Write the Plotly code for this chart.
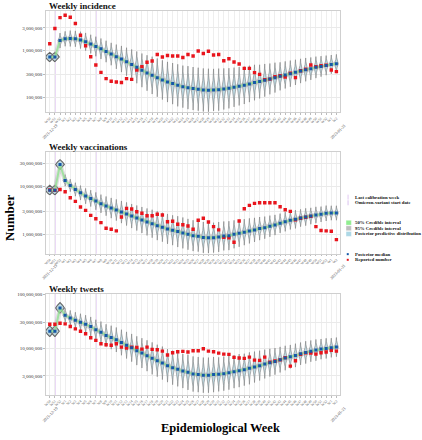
import numpy as np
import plotly.graph_objects as go

# ---------------- data ----------------
WEEK_LABELS = ["W50", "W51", "W52"] + ["W%d" % k for k in range(1, 53)] + ["W1", "W2"]
X = list(range(len(WEEK_LABELS)))

CALIB_LINE_IDX = 1
OMICRON_LINE_IDX = 9
DATE_LABEL_LEFT = ("2021-12-19", 1)
DATE_LABEL_RIGHT = ("2023-01-21", 56)

INC_MEDIAN = [716000, 716000, 1616000, 1757000, 1782000, 1757000, 1648000, 1517000, 1356000, 1205000,
              1076000, 943000, 830000, 728000, 650000, 569000, 499000, 431000, 372000, 327000,
              291000, 260000, 232000, 210000, 194000, 178000, 167000, 159000, 152000, 147000,
              142000, 140000, 142000, 144000, 149000, 154000, 162000, 170000, 178000, 191000,
              204000, 214000, 228000, 244000, 260000, 277000, 297000, 316000, 337000, 361000,
              385000, 404000, 431000, 452000, 475000, 499000, 516000]
INC_REPORTED = [1375000, 2910000, 4990000, 5610000, 5080000, 3720000, 2100000, 1247000, 728000, 484000,
                337000, 248000, 217000, 210000, 204000, 248000, 239000, 379000, 446000, 556000,
                589000, 814000, 716000, 775000, 753000, 753000, 703000, 814000, 753000, 962000,
                855000, 952000, 791000, 814000, 598000, 659000, 561000, 508000, 410000, 410000,
                332000, 305000, 236000, 242000, 273000, 286000, 269000, 324000, 260000, 366000,
                394000, 484000, 446000, 468000, 480000, 379000, 349000]
INC_SPREAD = [0.1, 0.1, 0.16, 0.16, 0.17, 0.17, 0.18, 0.19, 0.2, 0.21,
              0.22, 0.23, 0.24, 0.26, 0.28, 0.3, 0.32, 0.34, 0.36, 0.38,
              0.4, 0.41, 0.42, 0.43, 0.44, 0.45, 0.45, 0.46, 0.46, 0.46,
              0.46, 0.46, 0.45, 0.45, 0.44, 0.43, 0.42, 0.41, 0.4, 0.39,
              0.38, 0.36, 0.35, 0.33, 0.32, 0.3, 0.29, 0.28, 0.27, 0.26,
              0.25, 0.24, 0.23, 0.22, 0.21, 0.2, 0.2]

VAC_MEDIAN = [8390000, 8390000, 28500000, 13300000, 10500000, 8670000, 7380000, 6310000, 5660000, 4980000,
              4380000, 3920000, 3570000, 3250000, 2950000, 2690000, 2440000, 2220000, 2020000, 1840000,
              1690000, 1540000, 1430000, 1320000, 1240000, 1160000, 1090000, 1020000, 957000, 931000,
              880000, 871000, 871000, 899000, 944000, 957000, 1020000, 1070000, 1130000, 1200000,
              1260000, 1340000, 1400000, 1500000, 1590000, 1730000, 1860000, 1990000, 2090000, 2220000,
              2330000, 2440000, 2560000, 2650000, 2780000, 2820000, 2820000]
VAC_REPORTED = [8500000, 8300000, 8670000, 7740000, 5820000, 4910000, 3740000, 3200000, 2520000, 2150000,
                1780000, 1360000, 1300000, 1200000, 2330000, 3520000, 3400000, 2990000, 2780000, 2480000,
                2480000, 2650000, 2560000, 1860000, 1900000, 1650000, 1610000, 1520000, 1300000, 1990000,
                2190000, 1840000, 1470000, 1260000, 880000, 859000, 700000, 1930000, 3450000, 4050000,
                4460000, 4590000, 4590000, 4590000, 4590000, 3790000, 3300000, 3050000, 2050000, 2200000,
                2300000, 2400000, 1470000, 1220000, 1200000, 1180000, 793000]
VAC_SPREAD = [0.1, 0.1, 0.1, 0.12, 0.13, 0.14, 0.15, 0.16, 0.17, 0.18,
              0.19, 0.2, 0.21, 0.22, 0.23, 0.24, 0.25, 0.26, 0.27, 0.28,
              0.29, 0.3, 0.3, 0.31, 0.31, 0.32, 0.32, 0.32, 0.32, 0.32,
              0.32, 0.32, 0.31, 0.31, 0.3, 0.3, 0.29, 0.28, 0.27, 0.26,
              0.25, 0.24, 0.23, 0.22, 0.21, 0.2, 0.2, 0.19, 0.19, 0.18,
              0.18, 0.17, 0.17, 0.16, 0.16, 0.15, 0.15]

TWE_MEDIAN = [20600000, 20600000, 56400000, 41100000, 36700000, 33200000, 30400000, 27900000, 25300000, 21900000,
              19800000, 17200000, 15800000, 14300000, 12700000, 11300000, 10100000, 8910000, 8040000, 7180000,
              6400000, 5790000, 5220000, 4680000, 4290000, 3990000, 3710000, 3510000, 3260000, 3180000,
              3100000, 3100000, 3180000, 3210000, 3310000, 3460000, 3610000, 3770000, 3930000, 4160000,
              4400000, 4680000, 5010000, 5320000, 5620000, 6050000, 6490000, 6890000, 7280000, 7830000,
              8280000, 8750000, 9140000, 9540000, 9840000, 10100000, 10400000]
TWE_REPORTED = [27900000, 27900000, 29200000, 28400000, 25300000, 22900000, 20600000, 18500000, 15600000, 13900000,
                12000000, 11500000, 11300000, 12000000, 10400000, 9960000, 10400000, 10300000, 9540000, 10400000,
                9420000, 9290000, 8750000, 7380000, 8170000, 8530000, 8650000, 8400000, 8910000, 8910000,
                9700000, 8750000, 8530000, 8040000, 7690000, 7600000, 6680000, 6490000, 6400000, 6760000,
                5940000, 5870000, 6760000, 5400000, 5700000, 6000000, 6600000, 4590000, 5790000, 7600000,
                8100000, 8040000, 7690000, 8170000, 8400000, 9020000, 8750000]
TWE_SPREAD = [0.1, 0.1, 0.1, 0.13, 0.14, 0.15, 0.16, 0.17, 0.18, 0.19,
              0.2, 0.21, 0.22, 0.23, 0.24, 0.25, 0.26, 0.27, 0.28, 0.29,
              0.3, 0.3, 0.31, 0.31, 0.32, 0.32, 0.32, 0.33, 0.33, 0.33,
              0.33, 0.33, 0.33, 0.32, 0.32, 0.32, 0.31, 0.31, 0.3, 0.3,
              0.29, 0.28, 0.27, 0.26, 0.25, 0.24, 0.23, 0.22, 0.22, 0.21,
              0.21, 0.2, 0.2, 0.19, 0.19, 0.18, 0.18]

PANELS = [
    dict(title="Weekly incidence", median=INC_MEDIAN, reported=INC_REPORTED, spread=INC_SPREAD, n_calib=2,
         tickvals=[100000, 300000, 1000000, 3000000],
         ticktext=["100,000", "300,000", "1,000,000", "3,000,000"]),
    dict(title="Weekly vaccinations", median=VAC_MEDIAN, reported=VAC_REPORTED, spread=VAC_SPREAD, n_calib=3,
         tickvals=[1000000, 3000000, 10000000, 30000000],
         ticktext=["1,000,000", "3,000,000", "10,000,000", "30,000,000"]),
    dict(title="Weekly tweets", median=TWE_MEDIAN, reported=TWE_REPORTED, spread=TWE_SPREAD, n_calib=3,
         tickvals=[3000000, 10000000, 30000000, 100000000],
         ticktext=["3,000,000", "10,000,000", "30,000,000", "100,000,000"]),
]

# ---------------- layout geometry (pixels) ----------------
W, H = 422, 440
X_LEFT, X_RIGHT = 44, 340
PANEL_PX = [(9, 111), (150.7, 253), (293.3, 395)]
Y_LOG_RANGES = [(4.670, 6.840), (5.604, 7.713), (6.116, 8.013)]
TITLE_Y = [4, 145.5, 288]
DATE_Y = [130, 271, 414]

SERIF = "Liberation Serif, Times New Roman, serif"
VIOLIN_FILL = "#bcd9e3"
VIOLIN_LINE = "#7e7e7e"
LINE_COLOR = "#e2c9f3"
MEDIAN_COLOR = "#1457a8"
REPORT_COLOR = "#e8141c"

PROFILE = [(-1.0, 0.0), (-0.7, 0.1), (-0.45, 0.28), (-0.2, 0.68), (0.0, 1.0),
           (0.2, 0.68), (0.45, 0.28), (0.7, 0.1), (1.0, 0.0)]
DIAMOND = [(-1.0, 0.0), (-0.5, 0.6), (0.0, 1.0), (0.5, 0.6), (1.0, 0.0)]


def px_y(p):
    return 1 - p / H


def px_x(p):
    return p / W


def shape_xy(xs, meds, spreads, half_w, profile):
    px, py = [], []
    for x, m, s in zip(xs, meds, spreads):
        lm = np.log10(m)
        pts = [(x + half_w * dx, 10 ** (lm + dy * s)) for dy, dx in profile]
        pts += [(x - half_w * dx, 10 ** (lm + dy * s)) for dy, dx in reversed(profile)]
        px += [p[0] for p in pts] + [None]
        py += [p[1] for p in pts] + [None]
    return px, py


fig = go.Figure()
annotations = []
shapes = []

for k, pan in enumerate(PANELS):
    sfx = "" if k == 0 else str(k + 1)
    xa, ya = "x" + sfx, "y" + sfx
    nc = pan["n_calib"]
    med, rep, spr = pan["median"], pan["reported"], pan["spread"]

    for li in (CALIB_LINE_IDX, OMICRON_LINE_IDX):
        shapes.append(dict(type="line", xref=xa, yref=ya + " domain", x0=li, x1=li, y0=0, y1=1,
                           line=dict(color=LINE_COLOR, width=1.6), layer="below"))

    vx, vy = shape_xy(X[nc:], med[nc:], spr[nc:], 0.4, PROFILE)
    fig.add_trace(go.Scatter(x=vx, y=vy, xaxis=xa, yaxis=ya, mode="lines", fill="toself",
                             fillcolor=VIOLIN_FILL, line=dict(color=VIOLIN_LINE, width=0.6),
                             hoverinfo="skip"))
    dx_, dy_ = shape_xy(X[:nc], med[:nc], spr[:nc], 0.85, DIAMOND)
    fig.add_trace(go.Scatter(x=dx_, y=dy_, xaxis=xa, yaxis=ya, mode="lines", fill="toself",
                             fillcolor=VIOLIN_FILL, line=dict(color="#666666", width=1.1),
                             hoverinfo="skip"))
    fig.add_trace(go.Scatter(x=X, y=med, xaxis=xa, yaxis=ya, mode="lines",
                             line=dict(color="rgba(175,175,175,0.4)", width=4.5), hoverinfo="skip"))
    fig.add_trace(go.Scatter(x=X, y=med, xaxis=xa, yaxis=ya, mode="lines",
                             line=dict(color="rgba(140,225,140,0.75)", width=2), hoverinfo="skip"))
    fig.add_trace(go.Scatter(x=X, y=rep, xaxis=xa, yaxis=ya, mode="markers",
                             marker=dict(symbol="square", size=3.4, color=REPORT_COLOR)))
    fig.add_trace(go.Scatter(x=X, y=med, xaxis=xa, yaxis=ya, mode="markers",
                             marker=dict(symbol="square", size=3, color=MEDIAN_COLOR)))

    top, bot = PANEL_PX[k]
    fig.update_layout(**{
        "xaxis" + sfx: dict(domain=[px_x(X_LEFT), px_x(X_RIGHT)], anchor=ya, range=[-0.78, 56.78],
                            tickvals=X, ticktext=WEEK_LABELS, tickangle=-45,
                            tickfont=dict(family=SERIF, size=3.6, color="#555"),
                            showgrid=True, gridcolor="#eeeeee", gridwidth=0.6,
                            showline=True, linecolor="#cfcfcf", linewidth=1, mirror=True,
                            ticks="outside", ticklen=1.5, tickcolor="#bbb", zeroline=False),
        "yaxis" + sfx: dict(domain=[px_y(bot), px_y(top)], anchor=xa, type="log",
                            range=list(Y_LOG_RANGES[k]), tickvals=pan["tickvals"], ticktext=pan["ticktext"],
                            tickfont=dict(family=SERIF, size=5, color="#333"),
                            showgrid=True, gridcolor="#eaeaea", gridwidth=0.6,
                            showline=True, linecolor="#cfcfcf", linewidth=1, mirror=True,
                            ticks="outside", ticklen=1.5, tickcolor="#bbb", zeroline=False),
    })

    annotations.append(dict(text="<b>%s</b>" % pan["title"], xref="paper", yref="paper",
                            x=px_x(45), y=px_y(TITLE_Y[k]), xanchor="left", yanchor="middle",
                            showarrow=False, font=dict(family=SERIF, size=9, color="#111")))
    for (lab, idx), shift in ((DATE_LABEL_LEFT, -5), (DATE_LABEL_RIGHT, 1.5)):
        annotations.append(dict(text=lab, xref=xa, yref="paper", x=idx, xshift=shift,
                                y=px_y(DATE_Y[k]), xanchor="center", yanchor="middle",
                                textangle=-45, showarrow=False,
                                font=dict(family=SERIF, size=4.2, color="#444")))

annotations.append(dict(text="<b>Number</b>", xref="paper", yref="paper", x=px_x(7), y=px_y(217),
                        textangle=-90, showarrow=False, xanchor="center", yanchor="middle",
                        font=dict(family=SERIF, size=13, color="#000")))
annotations.append(dict(text="<b>Epidemiological Week</b>", xref="paper", yref="paper",
                        x=px_x(220), y=px_y(428), showarrow=False, xanchor="center", yanchor="middle",
                        font=dict(family=SERIF, size=12.5, color="#000")))

LEG_TEXT_X = 353
leg_font = dict(family=SERIF, size=4.8, color="#111")
leg_items = [
    ("line", LINE_COLOR, 196.0, "Last calibration week"),
    ("line", "#d9c2ee", 201.7, "Omicron-variant start date"),
    ("box", "#90ee90", 221.7, "50% Credible interval"),
    ("box", "#bebebe", 227.3, "95% Credible interval"),
    ("box", "#add8e6", 233.0, "Posterior predictive distribution"),
    ("dot", MEDIAN_COLOR, 253.3, "Posterior median"),
    ("dot", REPORT_COLOR, 259.0, "Reported number"),
]
for kind, col, yc, lab in leg_items:
    if kind == "line":
        shapes.append(dict(type="line", xref="paper", yref="paper", x0=px_x(347.7), x1=px_x(347.7),
                           y0=px_y(yc - 2.5), y1=px_y(yc + 2.5), line=dict(color=col, width=1)))
    elif kind == "box":
        shapes.append(dict(type="rect", xref="paper", yref="paper", x0=px_x(345.7), x1=px_x(351),
                           y0=px_y(yc - 2.4), y1=px_y(yc + 2.4), fillcolor=col,
                           line=dict(color="#ffffff", width=0.3)))
    else:
        shapes.append(dict(type="rect", xref="paper", yref="paper", x0=px_x(346.4), x1=px_x(348.4),
                           y0=px_y(yc - 1), y1=px_y(yc + 1), fillcolor=col, line=dict(width=0)))
    annotations.append(dict(text="<b>%s</b>" % lab, xref="paper", yref="paper", x=px_x(LEG_TEXT_X),
                            y=px_y(yc), xanchor="left", yanchor="middle", showarrow=False, font=leg_font))

fig.update_layout(width=W, height=H, margin=dict(l=0, r=0, t=0, b=0), showlegend=False,
                  paper_bgcolor="white", plot_bgcolor="white",
                  annotations=annotations, shapes=shapes)

fig.write_html("out.html", config={"displayModeBar": False},
               post_script="document.body.style.margin='0px';")
